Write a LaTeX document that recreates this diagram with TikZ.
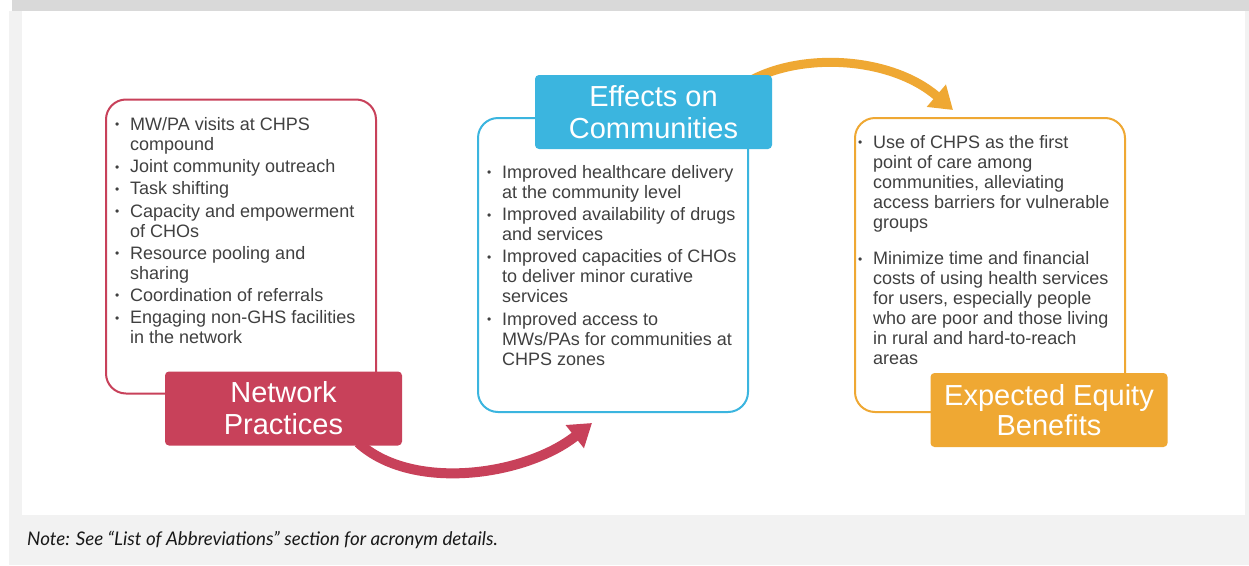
\documentclass[tikz,border=0pt]{standalone}
\usepackage{fontspec}
\setmainfont{Liberation Sans}
\newfontfamily\notefont{Lato}
\usetikzlibrary{arrows.meta,backgrounds}

\definecolor{npred}{HTML}{C8415A}
\definecolor{ecblue}{HTML}{3BB5DF}
\definecolor{eegold}{HTML}{EFA833}
\definecolor{bodygray}{HTML}{404040}
\definecolor{pagegray}{HTML}{F2F2F2}
\definecolor{bargray}{HTML}{D9D9D9}

\newcommand{\bodyfont}{\fontsize{18}{20}\selectfont\hyphenpenalty=10000\exhyphenpenalty=10000\setlength{\parskip}{2.2pt}}
\newcommand{\headfont}{\fontsize{29}{32}\selectfont}
\newcommand{\bitem}[1]{\par\noindent\hangindent=15pt\hangafter=1\makebox[15pt][l]{\raisebox{1.5pt}{\fontsize{12}{12}\selectfont\textbullet}}#1}

\begin{document}
\begin{tikzpicture}[x=1pt,y=-1pt,
  boxframe/.style={draw=#1,line width=2pt,rounded corners=20pt,minimum width=270pt,minimum height=294pt,inner sep=0pt},
  headbox/.style={fill=#1,text=white,rounded corners=4pt,minimum width=237pt,minimum height=74pt,align=center,font=\headfont,inner sep=0pt},
  listtext/.style={text=bodygray,align=flush left,text width=265pt,inner sep=0pt,anchor=north west,font=\bodyfont},
  flowarrow/.style={draw=#1,line width=10pt,-{Triangle[length=22pt,width=28pt]}}]
\useasboundingbox (0,0) rectangle (1249,565);

% Page
\begin{scope}[on background layer]
\fill[white] (0,0) rectangle (1249,565);
\fill[pagegray] (9,11) rectangle (1249,565);
\fill[white] (22,11) rectangle (1245,515);
\fill[bargray] (12,0) rectangle (1249,11);
\end{scope}

% Frames
\node[boxframe=npred] (npBox) at (241,246.5) {};
\node[boxframe=ecblue] (ecBox) at (613,265) {};
\node[boxframe=eegold] (eeBox) at (990,265) {};

% Headings
\node[headbox=npred] (npHead) at (283.5,408.5) {Network\\Practices};
\node[headbox=ecblue] (ecHead) at (653.5,112) {Effects on\\Communities};
\node[headbox=eegold] (eeHead) at (1049,410) {Expected Equity\\[-2pt]Benefits};

% Arrows, kept behind the headings
\coordinate (ecIn) at (592,423);
\coordinate (eeIn) at (953,110);
\begin{scope}[on background layer]
\draw[flowarrow=npred] ([xshift=-44pt,yshift=3pt]npHead.south east) .. controls (412,492) and (525,476) .. (ecIn);
\draw[flowarrow=eegold,line width=9pt] ([xshift=-24pt,yshift=-7pt]ecHead.north east) .. controls (800,52) and (890,56) .. (eeIn);
\end{scope}

% Lists
\node[listtext] (npList) at (115,108) {%
  \bitem{MW/PA visits at CHPS\newline compound}
  \bitem{Joint community outreach}
  \bitem{Task shifting}
  \bitem{Capacity and empowerment\newline of CHOs}
  \bitem{Resource pooling and\newline sharing}
  \bitem{Coordination of referrals}
  \bitem{Engaging non-GHS facilities\newline in the network}\endgraf};
\node[listtext] (ecList) at (487,156) {%
  \bitem{Improved healthcare delivery\newline at the community level}
  \bitem{Improved availability of drugs\newline and services}
  \bitem{Improved capacities of CHOs\newline to deliver minor curative\newline services}
  \bitem{Improved access to\newline MWs/PAs for communities at\newline CHPS zones}\endgraf};
\node[listtext] (eeList) at (858,126) {%
  \bitem{Use of CHPS as the first\newline point of care among\newline communities, alleviating\newline access barriers for vulnerable\newline groups}
  \par\vspace{14pt}
  \bitem{Minimize time and financial\newline costs of using health services\newline for users, especially people\newline who are poor and those living\newline in rural and hard-to-reach\newline areas}\endgraf};

% Note
\node[anchor=base west,font=\notefont\itshape\fontsize{18.8}{22}\selectfont,text=black!90,inner sep=0pt] (note) at (27,545) {Note: See “List of Abbreviations” section for acronym details.};
\end{tikzpicture}
\end{document}
